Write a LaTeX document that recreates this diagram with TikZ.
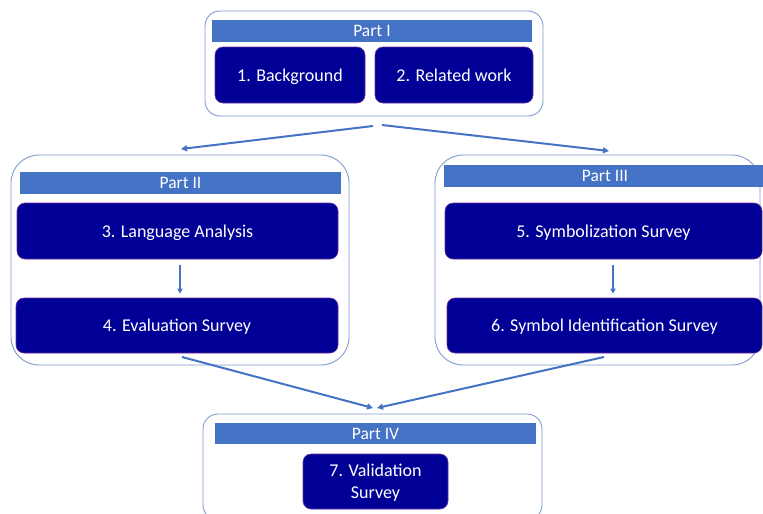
\documentclass[tikz,border=0pt]{standalone}
\usepackage{fontspec}
\setmainfont{Carlito}
\usetikzlibrary{arrows.meta}
\definecolor{hdr}{HTML}{4472C4}
\definecolor{navy}{RGB}{0,0,150}
\definecolor{edgeP}{HTML}{7030A0}
\definecolor{outerc}{HTML}{7F9BCF}
\definecolor{arrc}{HTML}{4472C4}
\tikzset{
  outerbox/.style={draw=outerc, line width=0.9pt, fill=white},
  header/.style={fill=hdr, text=white, inner sep=0pt, font=\fontsize{17.5}{20}\selectfont},
  taskbox/.style={fill=navy, draw=edgeP, line width=0.6pt, rounded corners=8pt, text=white, inner sep=0pt, align=center, text depth=0pt, font=\fontsize{18}{22}\selectfont},
  conn/.style={draw=arrc, line width=2pt, -{Triangle[length=6pt,width=6pt]}},
  inconn/.style={draw=arrc, line width=1.6pt, -{Triangle[length=5pt,width=5pt]}},
}
\begin{document}
\begin{tikzpicture}[x=1pt,y=-1pt]
\useasboundingbox (0,0) rectangle (763,514);
\clip (0,0) rectangle (763,514);
% Part I
\node[outerbox, rounded corners=15pt, minimum width=338pt, minimum height=105pt] (p1) at (374,63.5) {};
\node[header, minimum width=320pt, minimum height=22pt] (h1) at (372,31) {Part I};
\node[taskbox, minimum width=150pt, minimum height=56pt] (b1) at (290,75) {1. Background};
\node[taskbox, minimum width=158pt, minimum height=56pt] (b2) at (454,75) {2. Related work};
% Part II
\node[outerbox, rounded corners=28pt, minimum width=338pt, minimum height=210pt] (p2) at (180,260) {};
\node[header, minimum width=321pt, minimum height=22pt] (h2) at (180.5,183) {Part II};
\node[taskbox, minimum width=321pt, minimum height=56pt] (b3) at (177.5,231) {3. Language Analysis};
\node[taskbox, minimum width=322pt, minimum height=55pt] (b4) at (177,325.5) {4. Evaluation Survey};
% Part III
\node[outerbox, rounded corners=28pt, minimum width=325pt, minimum height=210pt] (p3) at (597.5,260) {};
\node[header, minimum width=322pt, minimum height=22pt] (h3) at (605,176) {Part III};
\node[taskbox, minimum width=317pt, minimum height=56pt] (b5) at (603.5,231) {5. Symbolization Survey};
\node[taskbox, minimum width=315pt, minimum height=55pt] (b6) at (604.5,325.5) {6. Symbol Identification Survey};
% Part IV
\node[outerbox, rounded corners=15pt, minimum width=339pt, minimum height=106pt] (p4) at (372.5,467) {};
\node[header, minimum width=321pt, minimum height=21pt] (h4) at (375.5,433.5) {Part IV};
\node[taskbox, minimum width=145pt, minimum height=55pt] (b7) at (375.5,481.5) {7. Validation\\Survey};
% connectors
\coordinate (s1) at (373,126);
\coordinate (s2) at (382,125);
\coordinate (t1) at (181,149);
\coordinate (t2) at (609,151);
\draw[conn] (s1) -- (t1);
\draw[conn] (s2) -- (t2);
\draw[inconn, shorten <=6pt, shorten >=4pt] ([xshift=2.5pt]b3.south) -- ([xshift=3pt]b4.north);
\draw[inconn, shorten <=6pt, shorten >=4pt] ([xshift=9.5pt]b5.south) -- ([xshift=8.5pt]b6.north);
\coordinate (u1) at (182,357);
\coordinate (u2) at (604,357);
\coordinate (v1) at (373,408);
\coordinate (v2) at (377,408);
\draw[conn] (u1) -- (v1);
\draw[conn] (u2) -- (v2);
\end{tikzpicture}
\end{document}
